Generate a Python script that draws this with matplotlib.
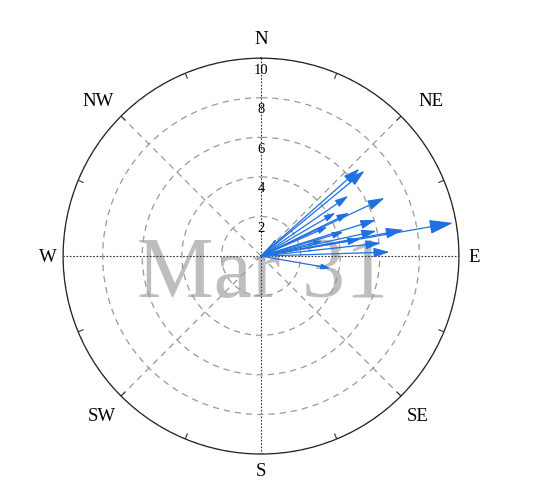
import numpy as np
import matplotlib
matplotlib.use('Agg')
import matplotlib.pyplot as plt

# wind direction (deg, clockwise from N) and speed for each arrow
direction = [48.4, 50.5, 55.4, 64.8, 59.8, 63.9, 72.5, 80.2, 79.6, 77.7,
             83.8, 88.2, 99.9, 43.0, 73.7, 66.3, 80.3, 76.0]
speed = [6.65, 6.78, 5.36, 6.9, 4.35, 4.97, 6.07, 9.84, 7.33, 5.97,
         6.08, 6.5, 3.56, 1.18, 4.34, 3.66, 5.1, 3.2]

compass = ['N', 'NE', 'E', 'SE', 'S', 'SW', 'W', 'NW']
compass_ang = [0, 47.5, 90, 135.5, 180, 225, 270, 313.7]
compass_r = [11.0, 11.65, 10.75, 11.3, 10.85, 11.4, 10.75, 11.4]
rings = [2, 4, 6, 8, 10]
label = 'Mar 31'

serif = 'Liberation Serif'
blue = '#1f70e0'

fig = plt.figure(figsize=(5.34, 4.81), dpi=100)
ax = fig.add_axes([0.118, 0.054, 0.7416, 0.823], projection='polar')
ax.set_theta_zero_location('N')
ax.set_theta_direction(-1)
ax.set_ylim(0, 10)

# radial grid
ax.set_yticks(rings)
ax.set_yticklabels([])
ax.yaxis.grid(True, color='#999999', linestyle=(0, (5, 4)), linewidth=0.9)
ax.spines['polar'].set_linewidth(0.9)
ax.spines['polar'].set_color('#222222')

# angular grid: dotted black on the axes, dashed grey on diagonals
ax.set_xticks(np.radians(np.arange(0, 360, 45)))
ax.set_xticklabels([])
ax.tick_params(axis='x', length=0)
ax.xaxis.grid(True)
for i, gl in enumerate(ax.xaxis.get_gridlines()):
    if i % 2 == 0:
        gl.set_color('#333333')
        gl.set_linestyle((0, (1.5, 1.5)))
        gl.set_linewidth(0.8)
    else:
        gl.set_color('#999999')
        gl.set_linestyle((0, (5, 4)))
        gl.set_linewidth(0.9)

# small tick marks on the rim
for t in np.arange(22.5, 360, 22.5):
    if t % 90 == 0:
        continue
    ax.plot([np.radians(t)] * 2, [9.7, 10], color='#333333', lw=0.8,
            solid_capstyle='butt', zorder=2)

for r in rings:
    ax.text(0, r - 0.55, str(r), ha='center', va='center', fontsize=10.5,
            family=serif, zorder=2)

for name, ang, r in zip(compass, compass_ang, compass_r):
    ax.text(np.radians(ang), r, name, ha='center', va='center', fontsize=13.5,
            family=serif, clip_on=False)

# big date watermark
ax.text(263 / 534, (481 - 297) / 481, label, transform=fig.transFigure,
        ha='center', va='baseline', fontsize=62, family=serif,
        color='#bebebe', zorder=1)

for d, s in zip(direction, speed):
    ax.annotate('', xy=(np.radians(d), s), xytext=(0, 0),
                arrowprops=dict(arrowstyle='-|>,head_length=0.4,head_width=0.12',
                                color=blue, lw=0.9, shrinkA=0, shrinkB=0,
                                mutation_scale=3.7 * s),
                zorder=3)

ax.set_ylim(0, 10)
fig.savefig('out.png', dpi=100)
